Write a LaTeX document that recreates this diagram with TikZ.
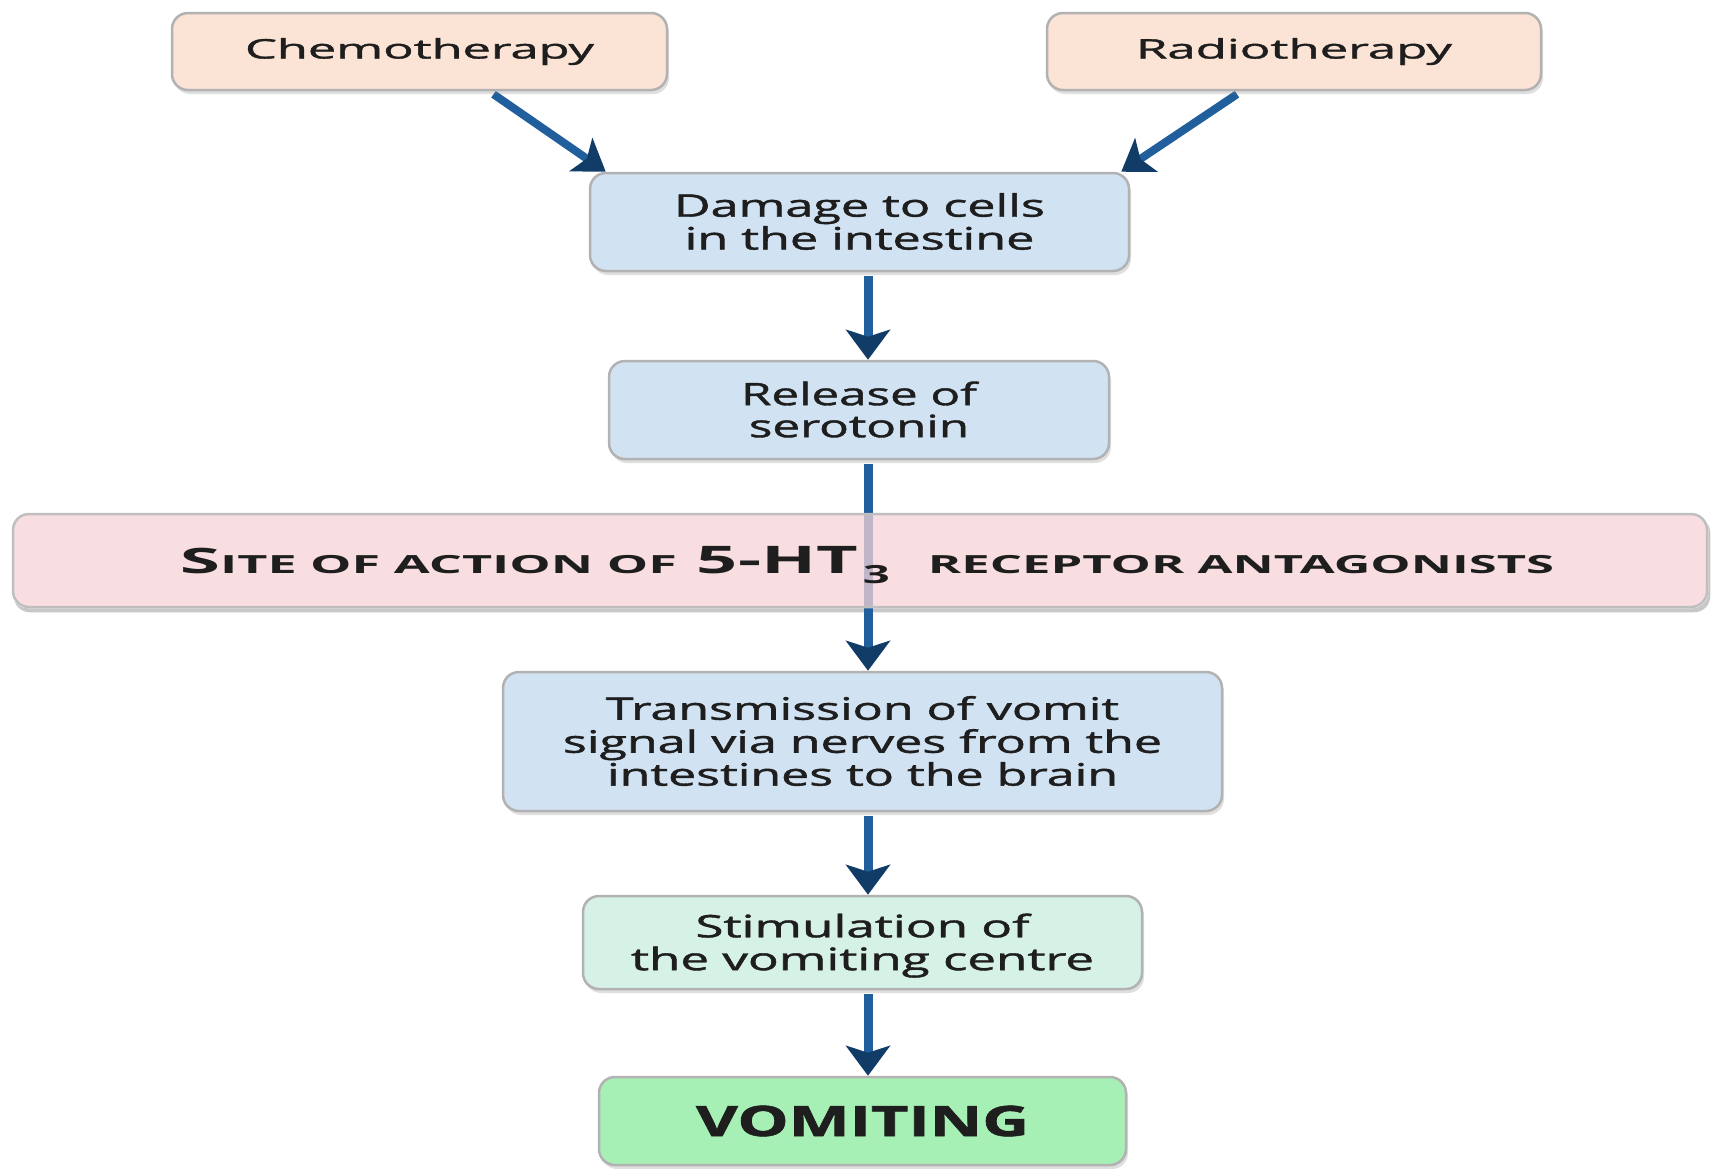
\documentclass[tikz,border=0pt]{standalone}
\usepackage{fontspec}
\setmainfont{Open Sans}
\newfontfamily\medfont{Open Sans}[FakeBold=1.2]
\usepackage{graphicx}
\usetikzlibrary{arrows.meta,shadows}
\definecolor{peach}{RGB}{251,227,213}
\definecolor{paleblue}{RGB}{209,226,242}
\definecolor{bandpink}{RGB}{248,211,216}
\definecolor{mint}{RGB}{214,242,230}
\definecolor{vgreen}{RGB}{166,240,182}
\definecolor{arrowblue}{RGB}{32,94,156}
\definecolor{headblue}{RGB}{18,60,104}
\definecolor{txt}{RGB}{30,30,30}
\newcommand{\fitw}[2]{\resizebox{#1pt}{\height}{#2}}
\newcommand{\lns}[1]{\raisebox{-4pt}[\height][\depth]{\begin{tabular}{@{}c@{}}#1\end{tabular}}}
\pgfdeclarelayer{under}
\pgfsetlayers{under,main}
\begin{document}
\begin{tikzpicture}[x=1pt,y=-1pt,
  box/.style={rectangle, rounded corners=16pt, draw=black!30, line width=2.5pt,
    inner sep=0pt, text=txt, font=\medfont\fontsize{31}{31}\selectfont,
    drop shadow={shadow xshift=2pt, shadow yshift=-4pt, opacity=0.25}},
  peachbox/.style={box, fill=peach, font=\medfont\fontsize{27}{31}\selectfont},
  bluebox/.style={box, fill=paleblue},
  mintbox/.style={box, fill=mint},
  greenbox/.style={box, fill=vgreen},
  bandbox/.style={rectangle, rounded corners=16pt, draw=black!25, line width=2.5pt,
    inner sep=0pt, fill=bandpink, fill opacity=0.75, text opacity=1, text=txt},
  arr/.style={draw=arrowblue, line width=9pt,
    -{Stealth[length=30pt, width=44pt, inset=7pt, color=headblue]}},
  darr/.style={draw=arrowblue, line width=8pt,
    -{Stealth[length=30pt, width=40pt, inset=7pt, color=headblue]}}
]
\useasboundingbox (0,0) rectangle (1714,1168);

\node[peachbox, minimum width=495pt, minimum height=77pt] (chemo) at (419.5,51.5)
  {\fitw{349}{Chemotherapy}};
\node[peachbox, minimum width=494pt, minimum height=77pt] (radio) at (1294,51.5)
  {\fitw{316}{Radiotherapy}};
\node[bluebox, minimum width=539pt, minimum height=98pt] (damage) at (859.5,222)
  {\fitw{371}{\lns{Damage to cells\\in the intestine}}};
\node[bluebox, minimum width=500pt, minimum height=98pt] (release) at (859,410)
  {\fitw{236}{\lns{Release of\\serotonin}}};
\node[bandbox, minimum width=1694pt, minimum height=93pt] (band) at (860,560.5)
  {\hspace{14pt}\bfseries
   \fitw{497}{{\fontsize{35}{40}\selectfont S}{\fontsize{25}{30}\selectfont ITE OF ACTION OF}}%
   \hspace{20pt}%
   \fitw{161}{\fontsize{38}{42}\selectfont 5-HT}%
   \hspace{5pt}%
   \raisebox{-10pt}[0pt][0pt]{\fitw{27}{\fontsize{25}{30}\selectfont 3}}%
   \hspace{38pt}%
   \fitw{626}{\fontsize{25}{30}\selectfont RECEPTOR ANTAGONISTS}};
\node[bluebox, minimum width=719pt, minimum height=139pt] (trans) at (862.5,741.5)
  {\fitw{599}{\lns{Transmission of vomit\\signal via nerves from the\\intestines to the brain}}};
\node[mintbox, minimum width=559pt, minimum height=93pt] (stim) at (862.5,942.5)
  {\fitw{463}{\lns{Stimulation of\\the vomiting centre}}};
\node[greenbox, minimum width=527pt, minimum height=88pt] (vomit) at (862.5,1121)
  {\fitw{333}{\bfseries\fontsize{42}{46}\selectfont VOMITING}};

\coordinate (ax) at (868,0);

\begin{pgfonlayer}{under}
  \fill[white] (0,0) rectangle (1714,1168);
  % band shadow, outside the band only
  \begin{scope}[even odd rule, rounded corners=16pt]
    \clip (0,0) rectangle (1714,1168)
      (band.south west) rectangle (band.north east);
    \fill[black, opacity=0.22]
      ([shift={(2,4)}]band.south west) rectangle ([shift={(2,4)}]band.north east);
  \end{scope}
  \draw[darr] ([xshift=74pt,yshift=-3pt]chemo.south) -- ([xshift=17pt]damage.north west);
  \draw[darr] ([xshift=-57pt,yshift=-3pt]radio.south) -- ([xshift=-9pt]damage.north east);
  \draw[arr] ([yshift=-4pt]damage.south -| ax) -- (release.north -| ax);
  \draw[arr] ([yshift=-4pt]release.south -| ax) -- (trans.north -| ax);
  \draw[arr] ([yshift=-4pt]trans.south -| ax) -- (stim.north -| ax);
  \draw[arr] ([yshift=-4pt]stim.south -| ax) -- (vomit.north -| ax);
\end{pgfonlayer}
\end{tikzpicture}
\end{document}
